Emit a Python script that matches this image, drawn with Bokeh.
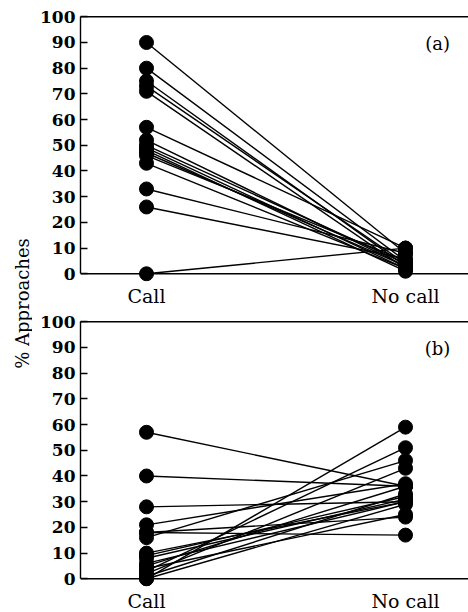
import math
from bokeh.plotting import figure
from bokeh.models import Range1d, FixedTicker, Span, Label
from bokeh.layouts import row, column
from bokeh.embed import file_html
from bokeh.resources import INLINE

# ---------------- data ----------------
categories = ["Call", "No call"]
y_ticks = [0, 10, 20, 30, 40, 50, 60, 70, 80, 90, 100]
y_label = "% Approaches"
panel_tags = ["(a)", "(b)"]

# panel (a): % approaches, one pair per subject
a_call = [90, 80, 75, 73, 71, 57, 52, 50, 49, 48, 47, 46, 43, 33, 26, 0]
a_nocall = [8, 5, 3, 4, 2, 10, 3, 4, 2, 1, 3, 5, 2, 8, 6, 10]

# panel (b)
b_call = [57, 40, 28, 21, 18, 18, 16, 10, 9, 8, 6, 5, 4, 3, 2, 1, 0, 0]
b_nocall = [36, 36, 30, 37, 17, 24, 46, 30, 32, 31, 30, 36, 25, 51, 43, 33, 59, 29]

FONT = "DejaVu Serif"


def panel(call, nocall, tag, top_border, bottom_border):
    p = figure(frame_width=388, frame_height=266,
               min_border_left=48, min_border_right=0,
               min_border_top=top_border, min_border_bottom=bottom_border,
               x_range=Range1d(-0.2548, 1.2432), y_range=Range1d(-3, 100.5),
               output_backend="svg", toolbar_location=None)
    p.outline_line_color = None
    p.grid.visible = False
    p.background_fill_color = "white"
    p.border_fill_color = "white"

    # x axis (categories)
    xa = p.xaxis[0]
    xa.ticker = FixedTicker(ticks=list(range(len(categories))))
    xa.major_label_overrides = {i: c for i, c in enumerate(categories)}
    xa.axis_line_color = None
    xa.major_tick_line_color = None
    xa.minor_tick_line_color = None
    xa.major_tick_out = 0
    xa.major_label_standoff = 3
    xa.major_label_text_font = FONT
    xa.major_label_text_font_size = "19px"
    xa.major_label_text_color = "black"

    # y axis
    ya = p.yaxis[0]
    ya.ticker = FixedTicker(ticks=y_ticks)
    ya.bounds = (y_ticks[0], y_ticks[-1])
    ya.axis_line_color = "black"
    ya.axis_line_width = 1.4
    ya.major_tick_line_color = "black"
    ya.major_tick_line_width = 1.4
    ya.major_tick_in = 7
    ya.major_tick_out = 0
    ya.minor_tick_line_color = None
    ya.major_label_standoff = 5
    ya.major_label_text_font = FONT
    ya.major_label_text_font_style = "bold"
    ya.major_label_text_font_size = "17px"
    ya.major_label_text_color = "black"

    # baseline and top border
    p.add_layout(Span(location=y_ticks[0], dimension="width",
                      line_color="black", line_width=1.4))
    p.add_layout(Span(location=y_ticks[-1], dimension="width",
                      line_color="black", line_width=1.4))

    n = len(call)
    xs = [[0, 1] for _ in range(n)]
    ys = [[c, nc] for c, nc in zip(call, nocall)]
    p.multi_line(xs=xs, ys=ys, line_color="black", line_width=1.4)
    p.scatter(x=[0] * n + [1] * n, y=list(call) + list(nocall),
              size=14, fill_color="black", line_color="black")

    p.add_layout(Label(x=1.1236, y=89.5, text=tag, text_font=FONT,
                       text_font_size="18px", text_align="center",
                       text_baseline="middle", text_color="black"))
    return p


pa = panel(a_call, a_nocall, panel_tags[0], 15, 29)
pb = panel(b_call, b_nocall, panel_tags[1], 10, 26)

lab = figure(width=32, height=612, x_range=Range1d(0, 32), y_range=Range1d(0, 612),
             min_border=0, min_border_left=0, min_border_right=0,
             min_border_top=0, min_border_bottom=0,
             x_axis_location=None, y_axis_location=None,
             output_backend="svg", toolbar_location=None)
lab.outline_line_color = None
lab.grid.visible = False
lab.add_layout(Label(x=22, y=309, text=y_label, angle=math.pi / 2,
                     text_font=FONT, text_font_size="18px",
                     text_align="center", text_baseline="middle",
                     text_color="black"))

layout = row(lab, column(pa, pb))

open("out.html", "w").write(file_html(layout, INLINE))
